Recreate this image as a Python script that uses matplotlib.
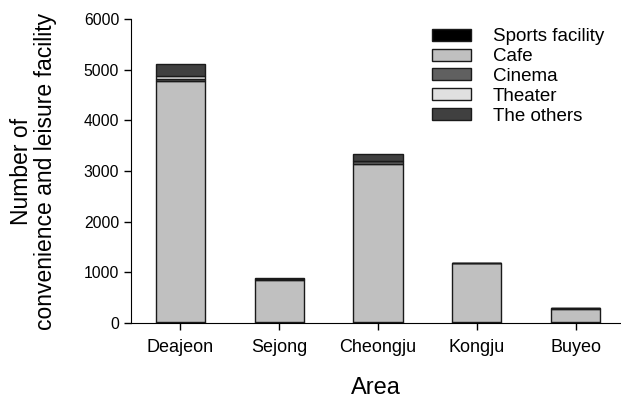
import matplotlib.pyplot as plt
import numpy as np

plt.rcParams['font.family'] = ['Liberation Sans', 'DejaVu Sans']

areas = ['Deajeon', 'Sejong', 'Cheongju', 'Kongju', 'Buyeo']
sports = [20, 15, 20, 15, 15]
cafe = [4756, 830, 3118, 1165, 255]
cinema = [40, 30, 50, 0, 25]
theater = [60, 0, 10, 0, 0]
others = [235, 5, 130, 5, 5]

series = [('Sports facility', sports, '#000000'),
          ('Cafe', cafe, '#c0c0c0'),
          ('Cinema', cinema, '#606060'),
          ('Theater', theater, '#e0e0e0'),
          ('The others', others, '#404040')]

fig = plt.figure(figsize=(6.21, 3.99), dpi=100)
ax = fig.add_axes([0.211, 0.191, 0.789, 0.761])

x = np.arange(len(areas))
bottom = np.zeros(len(areas))
for name, vals, col in series:
    ax.bar(x, vals, 0.5, bottom=bottom, color=col, edgecolor='#1a1a1a',
           linewidth=1.0, label=name)
    bottom += np.array(vals)

ax.set_xlim(-0.5, 4.46)
ax.set_ylim(0, 6000)
ax.set_yticks([0, 1000, 2000, 3000, 4000, 5000, 6000])
ax.set_xticks(x)
ax.set_xticklabels(areas, fontsize=13)
ax.tick_params(axis='y', labelsize=11.3, length=5, width=1)
ax.tick_params(axis='x', length=5, width=1, pad=7)
ax.spines['top'].set_visible(False)
ax.spines['right'].set_visible(False)

ax.set_xlabel('Area', fontsize=17, labelpad=15)
ax.set_ylabel('Number of\nconvenience and leisure facility', fontsize=16.5,
              linespacing=1.05)
ax.yaxis.set_label_coords(-0.152, 0.5)

ax.legend(loc='upper right', bbox_to_anchor=(1.0, 1.025), frameon=False,
          fontsize=13.5, handlelength=2.1, handleheight=0.6,
          labelspacing=0.15, handletextpad=1.15)

fig.savefig('out.png', dpi=100)
